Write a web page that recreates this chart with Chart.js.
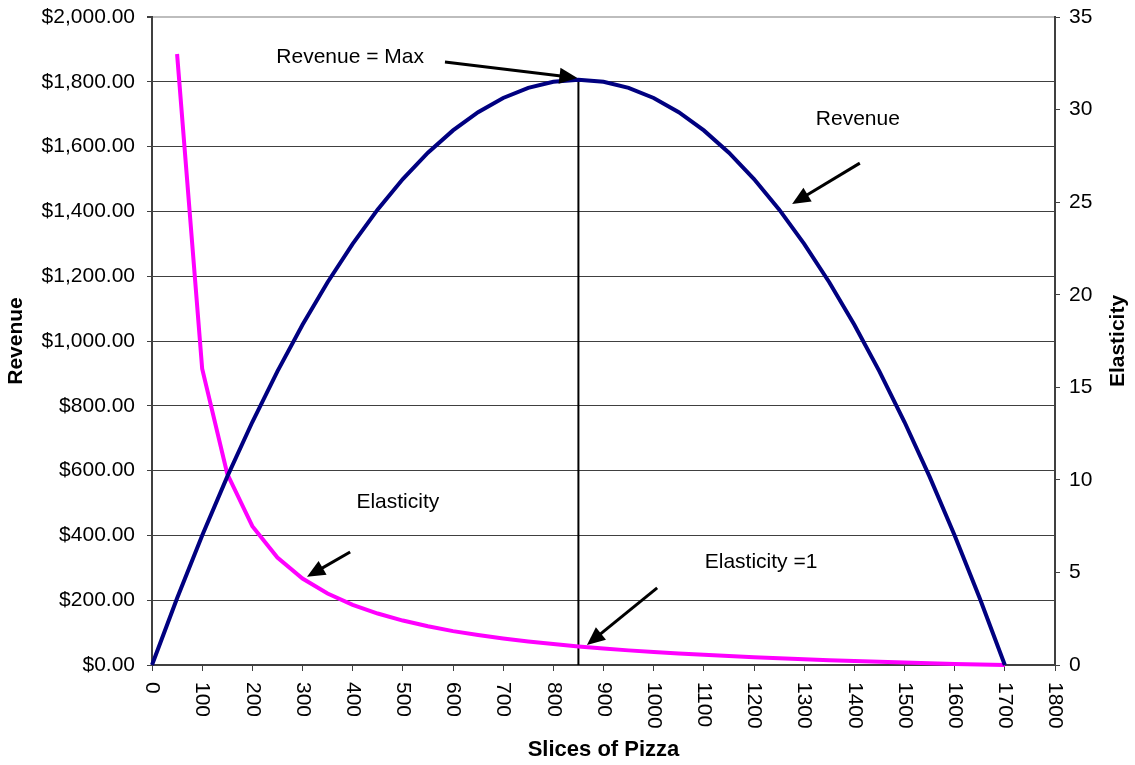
<!DOCTYPE html>
<html>
<head>
<meta charset="utf-8">
<script src="https://cdn.jsdelivr.net/npm/chart.js"></script>
<style>
  body { margin: 0; background: #fff; }
  #wrap { width: 1135px; height: 765px; }
</style>
</head>
<body>
<div id="wrap"><canvas id="pizzaChart"></canvas></div>
<script>
// slices of pizza sold (x), every 50
var slices = [0, 50, 100, 150, 200, 250, 300, 350, 400, 450, 500, 550, 600, 650, 700, 750, 800, 850,
  900, 950, 1000, 1050, 1100, 1150, 1200, 1250, 1300, 1350, 1400, 1450, 1500, 1550, 1600, 1650, 1700];
var revenue = [0, 206.25, 400, 581.25, 750, 906.25, 1050, 1181.25, 1300, 1406.25, 1500, 1581.25, 1650, 1706.25, 1750, 1781.25, 1800, 1806.25,
  1800, 1781.25, 1750, 1706.25, 1650, 1581.25, 1500, 1406.25, 1300, 1181.25, 1050, 906.25, 750, 581.25, 400, 206.25, 0];
var elasticity = [null, 33, 16, 10.33, 7.5, 5.8, 4.67, 3.86, 3.25, 2.78, 2.4, 2.09, 1.83, 1.62, 1.43, 1.27, 1.13, 1,
  0.89, 0.79, 0.7, 0.62, 0.55, 0.48, 0.42, 0.36, 0.31, 0.26, 0.21, 0.17, 0.13, 0.1, 0.06, 0.03, 0];
// revenue max marker
var maxSlices = 850;
var maxRevenue = 1806.25;

// text + arrows, in data units of x and the revenue axis
var notes = [
  { text: 'Revenue = Max', x: 395, y: 1877, from: [584, 1861], to: [848, 1812] },
  { text: 'Revenue', x: 1407, y: 1685, from: [1411, 1549], to: [1276, 1423] },
  { text: 'Elasticity', x: 490, y: 503, from: [395, 349], to: [309, 272] },
  { text: 'Elasticity =1', x: 1214, y: 318, from: [1007, 238], to: [867, 62] }
];

var FONT = "'Liberation Sans', Arial, sans-serif";
Chart.defaults.font.family = FONT;
Chart.defaults.font.size = 21;
Chart.defaults.color = '#000';

function toPoints(xs, ys) {
  var pts = [];
  for (var i = 0; i < xs.length; i++) {
    if (ys[i] !== null) pts.push({ x: xs[i], y: ys[i] });
  }
  return pts;
}

function drawArrow(ctx, x1, y1, x2, y2) {
  var ang = Math.atan2(y2 - y1, x2 - x1);
  var head = 18, half = 8;
  var c = Math.cos(ang), s = Math.sin(ang);
  ctx.beginPath();
  ctx.moveTo(x1, y1);
  ctx.lineTo(x2 - c * head * 0.8, y2 - s * head * 0.8);
  ctx.stroke();
  ctx.beginPath();
  ctx.moveTo(x2, y2);
  ctx.lineTo(x2 - head * c + half * s, y2 - head * s - half * c);
  ctx.lineTo(x2 - head * c - half * s, y2 - head * s + half * c);
  ctx.closePath();
  ctx.fill();
}

var extras = {
  id: 'extras',
  afterDraw: function(chart) {
    var ctx = chart.ctx;
    var xs = chart.scales.x, ys = chart.scales.y;
    ctx.save();
    // x tick labels, rotated clockwise
    ctx.fillStyle = '#000';
    ctx.font = '21px ' + FONT;
    ctx.textAlign = 'left';
    ctx.textBaseline = 'middle';
    xs.ticks.forEach(function(t) {
      var px = xs.getPixelForValue(t.value);
      ctx.save();
      ctx.translate(px, xs.top + 17);
      ctx.rotate(Math.PI / 2);
      ctx.fillText(String(t.value), 0, 0);
      ctx.restore();
    });
    // right axis title, reads bottom to top
    ctx.save();
    ctx.font = 'bold 21px ' + FONT;
    ctx.textAlign = 'center';
    ctx.translate(1118, (chart.chartArea.top + chart.chartArea.bottom) / 2);
    ctx.rotate(-Math.PI / 2);
    ctx.fillText('Elasticity', 0, 0);
    ctx.restore();
    // notes and arrows
    ctx.font = '21px ' + FONT;
    ctx.textAlign = 'center';
    ctx.strokeStyle = '#000';
    ctx.lineWidth = 3;
    notes.forEach(function(n) {
      ctx.fillText(n.text, xs.getPixelForValue(n.x), ys.getPixelForValue(n.y));
      drawArrow(ctx,
        xs.getPixelForValue(n.from[0]), ys.getPixelForValue(n.from[1]),
        xs.getPixelForValue(n.to[0]), ys.getPixelForValue(n.to[1]));
    });
    ctx.restore();
  }
};

var ctx = document.getElementById('pizzaChart').getContext('2d');
var chart = new Chart(ctx, {
  type: 'scatter',
  data: {
    datasets: [{
      label: 'Revenue',
      data: toPoints(slices, revenue),
      showLine: true,
      borderColor: '#000080',
      borderWidth: 4,
      pointRadius: 0,
      clip: false,
      yAxisID: 'y'
    }, {
      label: 'Elasticity',
      data: toPoints(slices, elasticity),
      showLine: true,
      borderColor: '#ff00ff',
      borderWidth: 4,
      pointRadius: 0,
      clip: false,
      yAxisID: 'y2'
    }, {
      label: 'Max',
      data: [{ x: maxSlices, y: 0 }, { x: maxSlices, y: maxRevenue }],
      showLine: true,
      borderColor: '#000',
      borderWidth: 2,
      pointRadius: 0,
      yAxisID: 'y'
    }]
  },
  options: {
    responsive: true,
    maintainAspectRatio: false,
    animation: false,
    layout: { padding: { top: 17, left: 0, right: 0, bottom: 0 } },
    plugins: { legend: { display: false }, tooltip: { enabled: false } },
    scales: {
      x: {
        type: 'linear',
        min: 0,
        max: 1800,
        ticks: { stepSize: 100, display: false },
        grid: { drawOnChartArea: false, tickLength: 6, tickColor: '#404040' },
        border: { color: '#404040', width: 2 },
        title: { display: true, text: 'Slices of Pizza', font: { weight: 'bold', size: 22 }, padding: { top: 0, bottom: 2 } },
        afterFit: function(scale) { scale.height = 100; }
      },
      y: {
        position: 'left',
        min: 0,
        max: 2000,
        ticks: {
          stepSize: 200,
          padding: 12,
          callback: function(v) {
            return '$' + v.toLocaleString('en-US', { minimumFractionDigits: 2, maximumFractionDigits: 2 });
          }
        },
        grid: {
          color: function(c) { return c.tick && c.tick.value === 2000 ? '#bdbdbd' : '#404040'; },
          lineWidth: function(c) { return c.tick && c.tick.value === 2000 ? 2 : 1; },
          tickLength: 5,
          tickColor: '#404040'
        },
        border: { color: '#404040', width: 2 },
        title: { display: true, text: 'Revenue', font: { weight: 'bold', size: 21 }, padding: { top: 4, bottom: 0 } },
        afterFit: function(scale) { scale.width = 152; scale.paddingTop = 0; }
      },
      y2: {
        position: 'right',
        min: 0,
        max: 35,
        ticks: { stepSize: 5, padding: 9 },
        grid: { drawOnChartArea: false, tickLength: 5, tickColor: '#404040' },
        border: { color: '#404040', width: 2 },
        afterFit: function(scale) { scale.width = 80; scale.paddingTop = 0; }
      }
    }
  },
  plugins: [extras]
});
</script>
</body>
</html>
